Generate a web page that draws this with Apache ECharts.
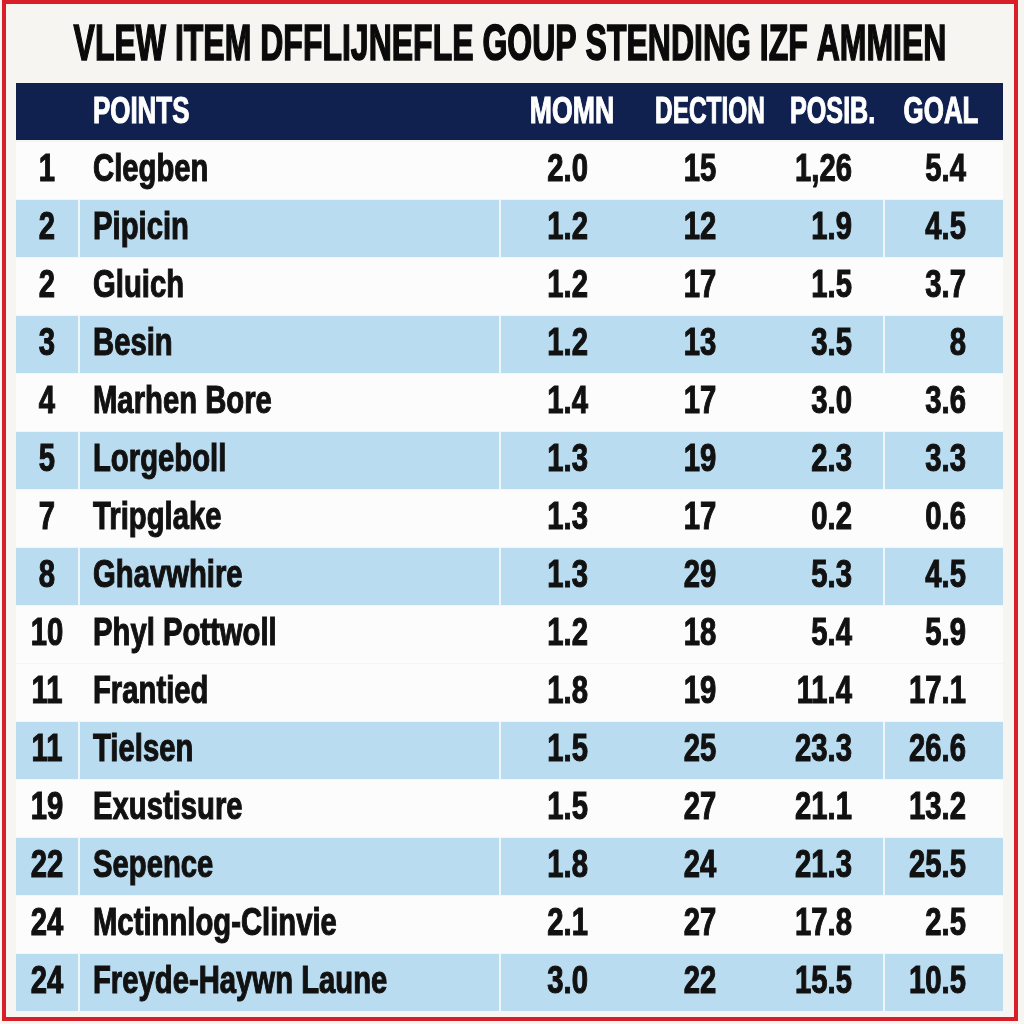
<!DOCTYPE html>
<html>
<head>
<meta charset="utf-8">
<script src="https://cdn.jsdelivr.net/npm/echarts@6/dist/echarts.min.js"></script>
<style>
  html, body { margin: 0; padding: 0; background: #f7f5f1; }
  #chart { width: 1024px; height: 1024px; }
</style>
</head>
<body>
<div id="chart"></div>
<script>
// table content
const title = "VLEW ITEM DFFLIJNEFLE GOUP STENDING IZF AMMIEN";
const headers = ["", "POINTS", "MOMN", "DECTION", "POSIB.", "GOAL"];
const ranks = ["1", "2", "2", "3", "4", "5", "7", "8", "10", "11", "11", "19", "22", "24", "24"];
const names = ["Clegben", "Pipicin", "Gluich", "Besin", "Marhen Bore", "Lorgeboll", "Tripglake",
  "Ghavwhire", "Phyl Pottwoll", "Frantied", "Tielsen", "Exustisure", "Sepence",
  "Mctinnlog-Clinvie", "Freyde-Haywn Laune"];
const momn = ["2.0", "1.2", "1.2", "1.2", "1.4", "1.3", "1.3", "1.3", "1.2", "1.8", "1.5", "1.5", "1.8", "2.1", "3.0"];
const dection = ["15", "12", "17", "13", "17", "19", "17", "29", "18", "19", "25", "27", "24", "27", "22"];
const posib = ["1,26", "1.9", "1.5", "3.5", "3.0", "2.3", "0.2", "5.3", "5.4", "11.4", "23.3", "21.1", "21.3", "17.8", "15.5"];
const goal = ["5.4", "4.5", "3.7", "8", "3.6", "3.3", "0.6", "4.5", "5.9", "17.1", "26.6", "13.2", "25.5", "2.5", "10.5"];

// which body rows get the blue band (styling)
const shaded = [0, 1, 0, 1, 0, 1, 0, 1, 0, 0, 1, 0, 1, 0, 1];

// no narrow font installed, so squeeze a bold sans sideways
const FONT = '"Liberation Sans", Arial, sans-serif';
const NAVY = "#10214f";
const BLUE = "#badcf0";
const TABLE_L = 16, TABLE_R = 1003;
const SEPS = [79, 500, 884];

const rowKeys = ["header"].concat(names);

function txt(x, y, s, align, size, squeeze, color) {
  return {
    type: "text",
    x: x, y: y, scaleX: squeeze,
    style: {
      text: s, x: 0, y: 0, align: align, verticalAlign: "middle",
      fontSize: size, fontWeight: "bold", fontFamily: FONT, fill: color,
      stroke: color, lineWidth: 1.1
    }
  };
}

function renderRow(params, api) {
  const r = api.value(1);
  const c = api.coord([TABLE_L, r]);
  const h = api.size([0, 1])[1];
  const top = c[1] - h / 2;
  const y = c[1];
  const x = (v) => api.coord([v, r])[0];
  const left = x(TABLE_L), w = x(TABLE_R) - left;
  const kids = [];
  if (r === 0) {
    kids.push({ type: "rect", shape: { x: left, y: top, width: w, height: h - 1 }, style: { fill: NAVY } });
    kids.push(txt(x(93), y + 1, headers[1], "left", 37, 0.7, "#fff"));
    kids.push(txt(x(572), y + 1, headers[2], "center", 37, 0.72, "#fff"));
    kids.push(txt(x(710), y + 1, headers[3], "center", 37, 0.66, "#fff"));
    kids.push(txt(x(790), y + 1, headers[4], "left", 37, 0.68, "#fff"));
    kids.push(txt(x(941), y + 1, headers[5], "center", 37, 0.7, "#fff"));
    return { type: "group", children: kids };
  }
  const i = r - 1;
  kids.push({
    type: "rect",
    shape: { x: left, y: top + 1, width: w, height: h - 1 },
    style: { fill: shaded[i] ? BLUE : "#fcfcfc" }
  });
  if (shaded[i]) {
    SEPS.forEach(function (sx) {
      kids.push({ type: "rect", shape: { x: x(sx) - 1, y: top + 1, width: 2, height: h - 1 }, style: { fill: "#eef6fb" } });
    });
  }
  const s = 0.77;
  kids.push(txt(x(47), y + 1, ranks[i], "center", 38, s, "#111"));
  kids.push(txt(x(93), y + 1, names[i], "left", 38, s, "#111"));
  kids.push(txt(x(588), y + 1, momn[i], "right", 38, s, "#111"));
  kids.push(txt(x(700), y + 1, dection[i], "center", 38, s, "#111"));
  kids.push(txt(x(852), y + 1, posib[i], "right", 38, s, "#111"));
  kids.push(txt(x(966), y + 1, goal[i], "right", 38, s, "#111"));
  return { type: "group", children: kids };
}

const chart = echarts.init(document.getElementById("chart"));
chart.setOption({
  backgroundColor: "#f7f5f1",
  animation: false,
  grid: { left: 0, right: 0, top: 83, height: 928 },
  xAxis: { type: "value", min: 0, max: 1024, show: false },
  yAxis: { type: "category", data: rowKeys, inverse: true, show: false },
  graphic: [
    {
      type: "text",
      x: 510, y: 46, scaleX: 0.64,
      style: {
        text: title, x: 0, y: 0, align: "center", verticalAlign: "middle",
        fontSize: 50, fontWeight: "bold", fontFamily: FONT, fill: "#0a0a0a",
        stroke: "#0a0a0a", lineWidth: 1.6
      }
    },
    {
      type: "rect",
      shape: { x: 4, y: 2, width: 1012, height: 1017 },
      style: { fill: null, stroke: "#d81e28", lineWidth: 4 },
      z: 100
    }
  ],
  series: [{
    type: "custom",
    renderItem: renderRow,
    encode: { x: 0, y: 1 },
    data: rowKeys.map(function (_, k) { return [TABLE_L, k]; }),
    clip: false
  }]
});
</script>
</body>
</html>
